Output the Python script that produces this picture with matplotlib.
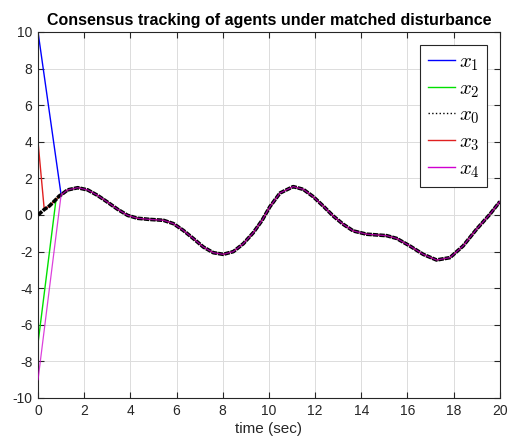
import numpy as np
import matplotlib.pyplot as plt

plt.rcParams['font.family'] = ['Liberation Sans', 'DejaVu Sans']
plt.rcParams['mathtext.fontset'] = 'cm'
plt.rcParams['axes.unicode_minus'] = False

# leader trajectory x0
t0 = [0.0, 0.27, 0.49, 0.78, 0.92, 1.0, 1.28, 1.72, 2.15, 2.58, 3.0, 3.45,
      3.88, 4.31, 4.82, 5.43, 5.86, 6.29, 6.72, 7.16, 7.59, 8.02, 8.46, 8.89,
      9.32, 9.7, 10.04, 10.48, 11.05, 11.49, 11.92, 12.35, 12.78, 13.22,
      13.65, 14.23, 14.78, 15.1, 15.53, 16.1, 16.68, 17.26, 17.84, 18.41,
      18.99, 19.57, 20.0]
x0 = [0.0, 0.3, 0.49, 0.85, 1.04, 1.1, 1.37, 1.49, 1.37, 1.07, 0.71, 0.31,
      -0.02, -0.18, -0.24, -0.29, -0.47, -0.84, -1.28, -1.75, -2.06, -2.15,
      -2.0, -1.57, -0.97, -0.3, 0.45, 1.2, 1.55, 1.4, 1.0, 0.49, -0.05,
      -0.51, -0.87, -1.05, -1.1, -1.13, -1.28, -1.69, -2.15, -2.46, -2.33,
      -1.69, -0.78, 0.04, 0.73]

# follower initial values and the time each one joins the leader
x1_init, x1_join = 10.0, 1.0
x2_init, x2_join = -7.0, 0.78
x3_init, x3_join = 4.0, 0.27
x4_init, x4_join = -9.0, 1.0

t0 = np.array(t0)
x0 = np.array(x0)


def agent(init, tj):
    k = np.searchsorted(t0, tj)
    t = np.concatenate([[0.0], t0[k:]])
    x = np.concatenate([[init], x0[k:]])
    return t, x


fig = plt.figure(figsize=(5.09, 4.43), dpi=100)
ax = fig.add_axes([0.0747, 0.1016, 0.9073, 0.8262])

t, x = agent(x1_init, x1_join)
ax.plot(t, x, color='blue', lw=1.0, label='$x_1$', zorder=2)
t, x = agent(x2_init, x2_join)
ax.plot(t, x, color='#00e000', lw=1.0, label='$x_2$', zorder=2)
ax.plot(t0, x0, color='black', ls=(0, (1.5, 0.3)), lw=2.6, label='$x_0$',
        zorder=3)
t, x = agent(x3_init, x3_join)
ax.plot(t, x, color='#e02020', lw=1.0, label='$x_3$', zorder=2.5)
t, x = agent(x4_init, x4_join)
ax.plot(t, x, color='#d000d0', lw=0.9, alpha=0.75, label='$x_4$', zorder=4)

ax.set_xlim(0, 20)
ax.set_ylim(-10, 10)
ax.set_xticks(np.arange(0, 21, 2))
ax.set_yticks(np.arange(-10, 11, 2))
ax.tick_params(direction='in', top=True, right=True, labelsize=10,
               colors='#262626', length=4, pad=4)
ax.grid(True, color='#dcdcdc', lw=0.7)
for s in ax.spines.values():
    s.set_color('#262626')
    s.set_linewidth(0.8)

ax.set_title('Consensus tracking of agents under matched disturbance',
             fontsize=11.5, fontweight='bold', pad=5)
ax.set_xlabel('time (sec)', fontsize=11, color='#262626', labelpad=3)

leg = ax.legend(loc='upper right', fontsize=15, fancybox=False,
                framealpha=1, edgecolor='#262626', handlelength=1.3,
                handletextpad=0.2, borderpad=0.35, labelspacing=0.3,
                borderaxespad=0.62)
leg.get_frame().set_linewidth(0.8)
for i, h in enumerate(leg.get_lines()):
    h.set_alpha(1)
    h.set_linewidth(1.0)
    if i == 2:
        h.set_linestyle(':')

fig.savefig('out.png', dpi=100)
